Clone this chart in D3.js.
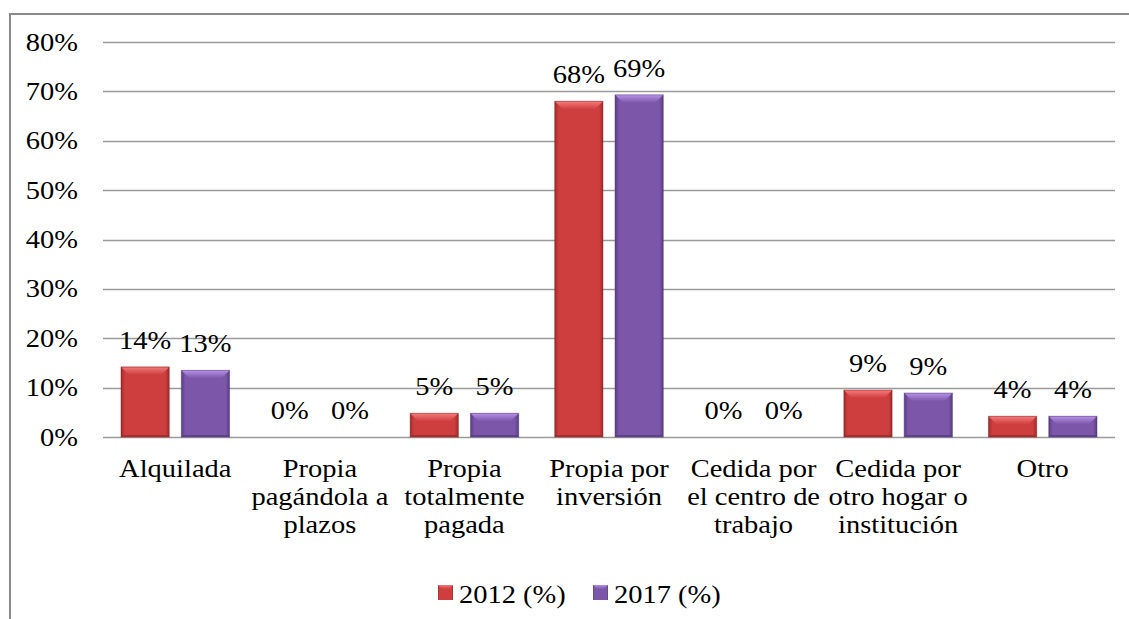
<!DOCTYPE html>
<html>
<head>
<meta charset="utf-8">
<script src="https://cdn.jsdelivr.net/npm/d3@7"></script>
<style>
  body { margin: 0; background: #fff; }
</style>
</head>
<body>
<div id="chart"></div>
<script>
// categories and their wrapped label lines
const categories = ["Alquilada", "Propia pagándola a plazos", "Propia totalmente pagada", "Propia por inversión",
    "Cedida por el centro de trabajo", "Cedida por otro hogar o institución", "Otro"]
const categoryLines = [
    ["Alquilada"],
    ["Propia", "pagándola a", "plazos"],
    ["Propia", "totalmente", "pagada"],
    ["Propia por", "inversión"],
    ["Cedida por", "el centro de", "trabajo"],
    ["Cedida por", "otro hogar o", "institución"],
    ["Otro"]
]
const seriesNames = ["2012 (%)", "2017 (%)"]
const values2012 = [0.142, 0, 0.048, 0.680, 0, 0.095, 0.042]
const values2017 = [0.135, 0, 0.048, 0.693, 0, 0.089, 0.042]
const labels2012 = ["14%", "0%", "5%", "68%", "0%", "9%", "4%"]
const labels2017 = ["13%", "0%", "5%", "69%", "0%", "9%", "4%"]
const yTicks = [0, 0.1, 0.2, 0.3, 0.4, 0.5, 0.6, 0.7, 0.8]

const width = 1129, height = 619
const margin = {left: 103, right: 14, top: 42, bottom: 182}
const fontSize = 25, stretch = 1.14
const fontFamily = "'Liberation Serif', 'Times New Roman', Times, serif"

//// palettes for the bevelled bars
const palette = [
    {body: "#cf3e3e", edge: "#a02a2a", top: "#f27878", dark: "#7d1c1c"},
    {body: "#7b56a9", edge: "#5a3c84", top: "#b38ee4", dark: "#46306a"}
]

const svg = d3.select("#chart").append("svg")
    .attr("width", width)
    .attr("height", height)

const defs = svg.append("defs")
palette.forEach((p, i) => {
    let g = defs.append("linearGradient").attr("id", "body" + i)
        .attr("x1", 0).attr("x2", 1).attr("y1", 0).attr("y2", 0)
    g.append("stop").attr("offset", "0%").attr("stop-color", p.edge)
    g.append("stop").attr("offset", "8%").attr("stop-color", p.body)
    g.append("stop").attr("offset", "92%").attr("stop-color", p.body)
    g.append("stop").attr("offset", "100%").attr("stop-color", p.edge)
    let t = defs.append("linearGradient").attr("id", "top" + i)
        .attr("x1", 0).attr("x2", 0).attr("y1", 0).attr("y2", 1)
    t.append("stop").attr("offset", "0%").attr("stop-color", p.top)
    t.append("stop").attr("offset", "100%").attr("stop-color", p.body)
})

// chart frame (left and top edges visible)
svg.append("path")
    .attr("d", `M10,${height} L10,14 L${width},14`)
    .attr("fill", "none")
    .attr("stroke", "#8a8a8a")
    .attr("stroke-width", 2)

//// scales
let x0 = d3.scaleBand().domain(categories).range([margin.left, width - margin.right])
let x1 = d3.scaleBand().domain(seriesNames).range([18, x0.bandwidth() - 18]).paddingInner(0.2)
let y = d3.scaleLinear().domain([0, 0.8]).range([height - margin.bottom, margin.top])

// helper: horizontally stretched serif text
function stext(parent, tx, ty, str, anchor) {
    parent.append("g")
        .attr("transform", `translate(${tx},${ty})`)
        .append("text")
        .attr("transform", `scale(${stretch},1)`)
        .attr("text-anchor", anchor || "middle")
        .attr("font-family", fontFamily)
        .attr("font-size", fontSize)
        .attr("fill", "#000")
        .text(str)
}

//// gridlines + y labels
let grid = svg.append("g")
yTicks.forEach(t => {
    grid.append("line")
        .attr("x1", margin.left).attr("x2", width - margin.right)
        .attr("y1", Math.round(y(t)) + 0.5).attr("y2", Math.round(y(t)) + 0.5)
        .attr("stroke", "#9a9a9a").attr("stroke-width", 1.3)
    stext(grid, 78, y(t) + 8.5, d3.format(".0%")(t), "end")
})

//// bars
const seriesValues = [values2012, values2017]
const seriesLabels = [labels2012, labels2017]
let bars = svg.append("g")
for (let s = 0; s < seriesNames.length; s++) {
    for (let i = 0; i < categories.length; i++) {
        let v = seriesValues[s][i]
        let bx = x0(categories[i]) + x1(seriesNames[s])
        let bw = x1.bandwidth()
        let top = y(v), bottom = y(0)
        let h = bottom - top
        if (h > 0.5) {
            let b = Math.min(8, h / 2)
            bars.append("rect")
                .attr("x", bx).attr("y", top).attr("width", bw).attr("height", h)
                .attr("fill", `url(#body${s})`)
                .attr("stroke", palette[s].dark).attr("stroke-opacity", 0.45).attr("stroke-width", 1)
            bars.append("path")
                .attr("d", `M${bx + 0.5},${top + 0.5} L${bx + bw - 0.5},${top + 0.5} L${bx + bw - b},${top + b} L${bx + b},${top + b} Z`)
                .attr("fill", `url(#top${s})`)
            bars.append("path")
                .attr("d", `M${bx},${bottom} L${bx + bw},${bottom} L${bx + bw - 2},${bottom - 2} L${bx + 2},${bottom - 2} Z`)
                .attr("fill", palette[s].edge).attr("opacity", 0.8)
        }
        stext(bars, bx + bw / 2, top - 18, seriesLabels[s][i], "middle")
    }
}

//// category labels
let xl = svg.append("g")
categories.forEach((c, i) => {
    categoryLines[i].forEach((line, k) => {
        stext(xl, x0(c) + x0.bandwidth() / 2, 477 + k * 28, line, "middle")
    })
})

//// legend
let legend = svg.append("g")
const legendX = [438, 593]
seriesNames.forEach((n, s) => {
    let lx = legendX[s], ly = 585
    legend.append("rect")
        .attr("x", lx).attr("y", ly).attr("width", 15).attr("height", 15)
        .attr("fill", `url(#body${s})`)
    legend.append("path")
        .attr("d", `M${lx},${ly} L${lx + 15},${ly} L${lx + 11},${ly + 4} L${lx + 4},${ly + 4} Z`)
        .attr("fill", `url(#top${s})`)
    stext(legend, lx + 21, 603, n, "start")
})
</script>
</body>
</html>
